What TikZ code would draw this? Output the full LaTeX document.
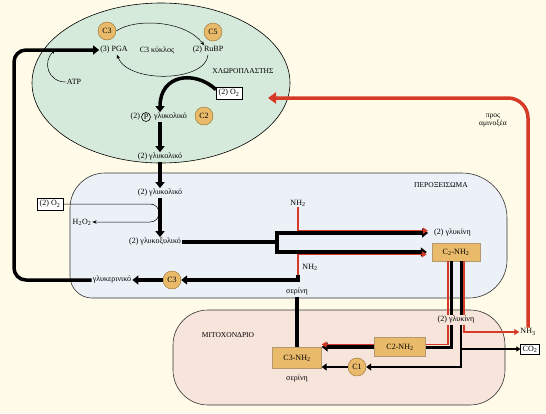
\documentclass[tikz,border=0pt]{standalone}
\usepackage{fontspec}
\setmainfont{Liberation Serif}
\usetikzlibrary{arrows.meta}
\usetikzlibrary{positioning}

\definecolor{bgcream}{RGB}{255,251,232}
\definecolor{chlgreen}{RGB}{214,234,219}
\definecolor{pergrey}{RGB}{236,240,247}
\definecolor{mitpink}{RGB}{247,228,219}
\definecolor{tanfill}{RGB}{233,186,106}
\definecolor{tanedge}{RGB}{150,108,45}
\definecolor{arrred}{RGB}{214,58,38}

\begin{document}
\begin{tikzpicture}[x=1pt,y=-1pt,
    every node/.style={font=\fontsize{8}{9}\selectfont, inner sep=1pt},
    carbon/.style={circle, draw=tanedge, fill=tanfill, minimum size=18pt, inner sep=0pt},
    amine/.style={draw=tanedge!70, fill=tanfill, minimum width=49pt, minimum height=19pt},
    gas/.style={draw=black, fill=white, inner sep=2.5pt, line width=0.5pt},
    heavyline/.style={line width=3.5pt},
    heavy/.style={line width=3.5pt, -{Triangle[length=6pt,width=9pt]}},
    midline/.style={line width=2.2pt, -{Triangle[length=5pt,width=7pt]}},
    fine/.style={line width=0.5pt, -{Stealth[length=4pt,width=3.5pt]}},
    redline/.style={arrred, line width=1.5pt},
    ]

    % page and compartments
    \fill[bgcream] (0,0) rectangle (546,413);
    \useasboundingbox (0,0) rectangle (546,413);
    \draw[fill=chlgreen, line width=0.6pt] (161,83) ellipse [x radius=129, y radius=80];
    \draw[fill=pergrey, draw=black!80, line width=0.6pt] (70,240) [rounded corners=35] -- (70,173)
        [rounded corners=45] -- (507,173) [rounded corners=38] -- (507,298)
        [rounded corners=22] -- (70,298) -- cycle;
    \draw[fill=mitpink, draw=black!80, line width=0.6pt, rounded corners=35] (173,310) rectangle (505,405);

    % chloroplast
    \node[carbon] (C3a) at (107,31) {C3};
    \node[carbon] (C5) at (213,32) {C5};
    \node (PGA) at (114,50) {(3) PGA};
    \node (cycle) at (157,50) {C3 κύκλος};
    \node (RuBP) at (208,50) {(2) RuBP};
    \node[font=\fontsize{7.5}{8}\selectfont] (chloro) at (243,71) {ΧΛΩΡΟΠΛΑΣΤΗΣ};
    \node (ATP) at (74,82) {ATP};
    \coordinate (atpend) at (55,50);
    \node[gas] (O2a) at (229,93) {(2) O\textsubscript{2}};
    \node[circle, draw, line width=0.6pt, inner sep=0.3pt, minimum size=9pt] (P) at (146,117) {P};
    \node[left=0pt of P] (two) {(2)};
    \node[right=2pt of P] (PGlyc) {γλυκολικό};
    \node[carbon] (C2a) at (204,116) {C2};
    \node (Glyc1) at (160,157) {(2) γλυκολικό};

    % peroxisome
    \node[font=\fontsize{7.5}{8}\selectfont] (perox) at (441,185) {ΠΕΡΟΞΕΙΣΩΜΑ};
    \node (Glyc2) at (160,193) {(2) γλυκολικό};
    \node[gas] (O2b) at (50,204) {(2) O\textsubscript{2}};
    \node (H2O2) at (82,222) {H\textsubscript{2}O\textsubscript{2}};
    \coordinate (loopa) at (150,204);
    \coordinate (loopb) at (150,222);
    \node (Glox) at (155,242) {(2) γλυκοξυλικό};
    \coordinate (brk) at (277,242);
    \node (NH2a) at (298,203) {NH\textsubscript{2}};
    \node[anchor=west] (GlyP) at (433,233) {(2) γλυκίνη};
    \node[amine, minimum width=48pt, minimum height=18pt] (C2N) at (456,252) {C\textsubscript{2}-NH\textsubscript{2}};
    \node (NH2b) at (310,267) {NH\textsubscript{2}};
    \coordinate (serj) at (298,275);
    \node (Ser1) at (297,292) {σερίνη};
    \node[carbon] (C3b) at (172,280) {C3};
    \node (Glycer) at (112,280) {γλυκερινικό};
    \coordinate (loopL) at (14,160);

    % mitochondrion
    \node[font=\fontsize{7.5}{8}\selectfont] (mito) at (228,335) {ΜΙΤΟΧΟΝΔΡΙΟ};
    \node (GlyM) at (456,320) {(2) γλυκίνη};
    \node[amine, minimum width=51pt] (C2Nm) at (400,347) {C2-NH\textsubscript{2}};
    \node[amine, minimum height=21pt] (C3N) at (297,358) {C3-NH\textsubscript{2}};
    \node (Ser2) at (297,379) {σερίνη};
    \node[carbon] (C1) at (357,367) {C1};
    \node (NH3) at (528,332) {NH\textsubscript{3}};
    \node[gas, inner sep=2pt] (CO2) at (530,349) {CO\textsubscript{2}};
    \node[align=center, inner sep=0pt, font=\fontsize{7.5}{8}\selectfont] (amino) at (493,121) {προς\\αμινοξέα};
    \coordinate (redend) at (268,98);
    \coordinate (GL) at ([xshift=-5pt]GlyM.south);
    \coordinate (GR) at ([xshift=5pt]GlyM.south);
    \coordinate (c3e) at (C3N.east |- C2Nm);

    % C3 cycle and ATP
    \draw[fine] (C3a.east) .. controls (135,18) and (185,20) .. ([xshift=-4pt]RuBP.north);
    \draw[fine] (RuBP.south) .. controls (206,82) and (128,84) .. ([xshift=3pt]PGA.south);
    \draw[fine] (ATP.west) .. controls (48,82) and (42,62) .. (atpend);

    % glycolate path
    \draw[heavy] ([yshift=-3pt]O2a.north west) .. controls (195,70) and (160,74) .. (Glyc1 |- PGlyc.north);
    \draw[heavy] (Glyc1 |- PGlyc.south) -- (Glyc1.north);
    \draw[heavy] (Glyc1.south) -- (Glyc2.north);
    \draw[heavy] (Glyc2.south) -- (Glyc2 |- Glox.north);
    \draw[fine] (O2b.east) -- (loopa) to[out=0, in=0, looseness=1.7] (loopb) -- (H2O2.east);

    % glyoxylate to glycine
    \draw[heavyline] (Glox.east) -- (brk);
    \draw[heavyline, {Triangle[length=6pt,width=9pt]}-{Triangle[length=6pt,width=9pt]}]
        ([xshift=-5pt]GlyP.west) -- (GlyP.west -| brk) -- (C2N.west -| brk) -- ([xshift=-5pt]C2N.west);
    \draw[redline, -{Triangle[length=5pt,width=6pt]}] (NH2a.south) |- ([xshift=-5pt,yshift=2.3pt]GlyP.west);
    \draw[redline, -{Triangle[length=5pt,width=6pt]}] (serj) |- ([xshift=-5pt,yshift=-2.3pt]C2N.west);

    % serine back to PGA
    \draw[heavy] (serj) |- (C3b.east);
    \draw[heavy] (C3b.west) -- (Glycer.east);
    \draw[heavy, rounded corners=12] (Glycer.west) -- (Glycer.west -| loopL) -- (PGA.west -| loopL) -- (PGA.west);
    \draw[heavyline] (Ser1.south) -- (C3N.north);

    % glycine into the mitochondrion
    \draw[line width=3pt] ([xshift=-5pt]C2N.south) -- ([xshift=-5pt]GlyM.north);
    \draw[line width=3pt] ([xshift=5pt]C2N.south) -- ([xshift=5pt]GlyM.north);
    \draw[redline] ([xshift=-8pt]C2N.south) -- ([xshift=-8pt]GlyM.north);
    \draw[redline] ([xshift=8pt]C2N.south) -- ([xshift=8pt]GlyM.north);
    \draw[line width=3pt] (GL) |- (C2Nm.east);
    \draw[redline] ([xshift=-8pt]GlyM.south) |- ([yshift=2.5pt]C2Nm.east);
    \draw[heavy] (C2Nm.west) -- (c3e);
    \draw[redline, -{Triangle[length=5pt,width=6pt]}] ([yshift=2.5pt]C2Nm.west) -- ([yshift=2.5pt]c3e);
    \draw[midline] (GR) |- (C1.east);
    \draw[midline] (C1.west) -- (C3N.east |- C1);
    \draw[line width=1.2pt, -{Triangle[length=4pt,width=5pt]}] (GR |- CO2) -- (CO2.west);
    \draw[arrred, line width=2pt, -{Triangle[length=5pt,width=6pt]}] ([xshift=8pt]GlyM.south) |- (NH3.west);

    % ammonia back to the chloroplast
    \draw[arrred, line width=3.5pt, rounded corners=20, -{Triangle[length=8pt,width=11pt]}] (NH3.north) |- (redend);

\end{tikzpicture}
\end{document}
